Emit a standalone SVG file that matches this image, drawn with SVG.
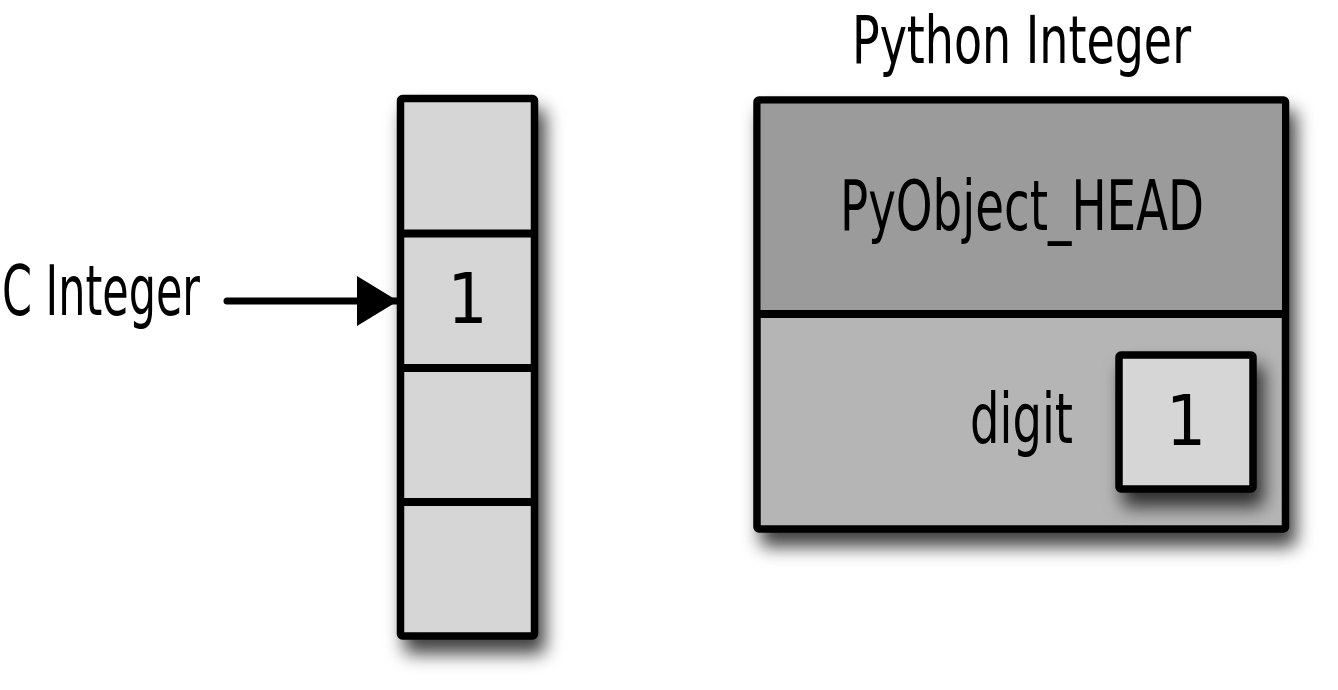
<svg xmlns="http://www.w3.org/2000/svg" width="1338" height="690" viewBox="0 0 1338 690">
  <defs>
    <filter id="shadow" x="-25%" y="-25%" width="160%" height="160%">
      <feDropShadow dx="7" dy="14" stdDeviation="9" flood-color="#000" flood-opacity="0.75"/>
    </filter>
    <marker id="arrow" viewBox="0 0 41 50" refX="41" refY="25" markerWidth="41" markerHeight="50" markerUnits="userSpaceOnUse" orient="auto">
      <polygon points="0,0 41,25 0,50" fill="#000"/>
    </marker>
  </defs>
  <style>
    .lbl { font-family: "Liberation Sans Narrow", "DejaVu Sans Condensed", "Liberation Sans", sans-serif; font-size: 70px; fill: #000; }
    .title { font-size: 66px; }
    .box { stroke: #000; stroke-width: 7.5; stroke-linejoin: round; }
    .div { stroke: #000; stroke-width: 8; }
    .light { fill: #d6d6d6; }
  </style>
  <rect width="1338" height="690" fill="#fff"/>

  <g id="c-integer-array">
    <rect class="box light" x="400.5" y="98.5" width="134" height="537.5" rx="2" filter="url(#shadow)"/>
    <line class="div" x1="400.5" y1="233.5" x2="534.5" y2="233.5"/>
    <line class="div" x1="400.5" y1="368" x2="534.5" y2="368"/>
    <line class="div" x1="400.5" y1="502" x2="534.5" y2="502"/>
    <text class="lbl" x="467.5" y="323" text-anchor="middle">1</text>
  </g>

  <g id="c-integer-label">
    <text class="lbl" x="2" y="315" textLength="198" lengthAdjust="spacingAndGlyphs">C Integer</text>
  </g>

  <g id="python-integer">
    <text class="lbl title" x="852" y="63" textLength="339" lengthAdjust="spacingAndGlyphs">Python Integer</text>
    <rect class="box" x="757" y="100" width="528.5" height="429" rx="2" fill="#b5b5b5" filter="url(#shadow)"/>
    <rect x="760.75" y="103.75" width="521" height="210.25" fill="#9b9b9b"/>
    <line class="div" x1="757" y1="314" x2="1285.5" y2="314"/>
    <text class="lbl" x="840" y="230" textLength="364" lengthAdjust="spacingAndGlyphs">PyObject_HEAD</text>
    <text class="lbl" x="970" y="443" textLength="103" lengthAdjust="spacingAndGlyphs">digit</text>
    <g id="digit-box">
      <rect class="box light" x="1119" y="355" width="134" height="134" rx="2" filter="url(#shadow)"/>
      <text class="lbl" x="1186" y="445" text-anchor="middle">1</text>
    </g>
  </g>

  <g id="connectors">
    <line x1="227" y1="301" x2="398" y2="301" stroke="#000" stroke-width="7" stroke-linecap="round" marker-end="url(#arrow)"/>
  </g>
</svg>
